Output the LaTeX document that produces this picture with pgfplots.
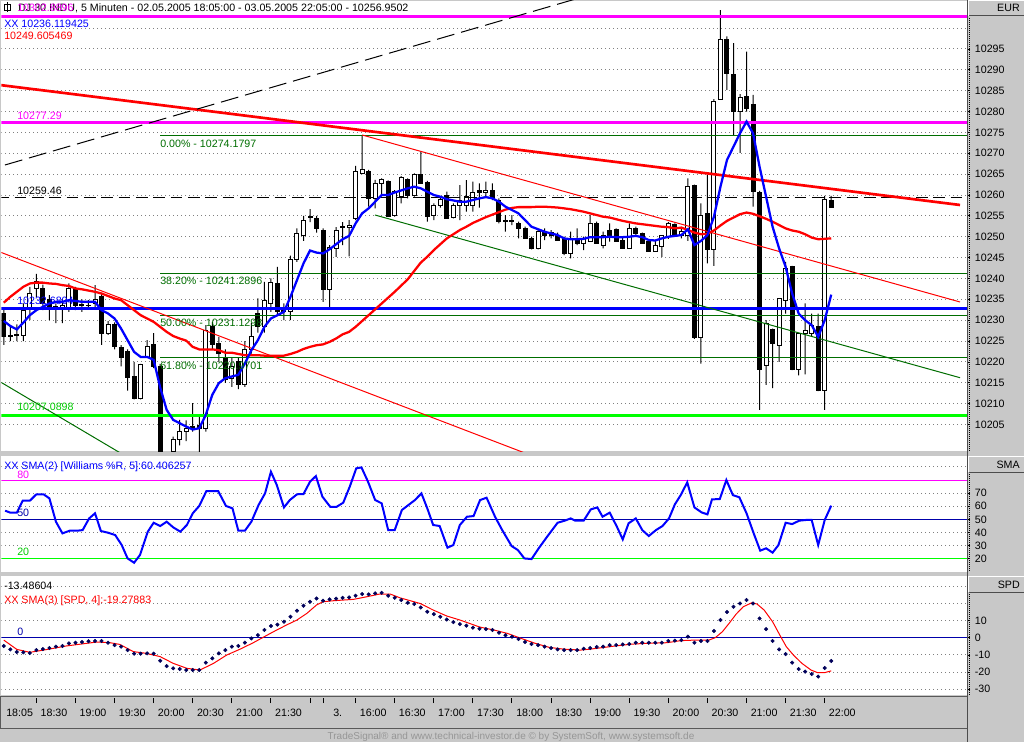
\documentclass[border=0pt]{standalone}
\usepackage{fontspec}
\setmainfont{Liberation Sans}
\usepackage{pgfplots}
\pgfplotsset{compat=1.18}
\usepackage{pgfplotstable}
\definecolor{bg}{RGB}{200,200,200}
\definecolor{gridc}{RGB}{128,128,128}
\definecolor{fib}{RGB}{0,110,0}
\definecolor{navyb}{RGB}{0,0,170}
\definecolor{dotc}{RGB}{0,0,90}
\definecolor{mag}{RGB}{255,0,255}
\definecolor{lgreen}{RGB}{0,255,0}
\definecolor{footc}{RGB}{150,150,150}
\newcommand\lab{\fontsize{8}{9.6}\selectfont}

\pgfplotstableread{
i o h l c b r
0 10231.6 10232.5 10224.1 10226.0 10229.8 10234.2
1 10226.4 10228.5 10225.0 10226.0 10228.6 10235.6
2 10226.3 10229.0 10225.0 10226.6 10227.8 10236.8
3 10226.4 10234.0 10225.0 10232.4 10229.4 10238.0
4 10232.6 10238.0 10230.0 10236.4 10231.2 10238.8
5 10237.6 10241.1 10235.6 10239.2 10232.4 10239.0
6 10237.6 10238.5 10232.4 10234.0 10233.2 10239.0
7 10235.0 10236.0 10230.0 10232.5 10234.0 10238.8
8 10233.2 10234.0 10229.3 10233.0 10234.4 10238.7
9 10233.0 10235.0 10229.3 10233.4 10234.4 10238.4
10 10232.9 10238.8 10232.0 10237.6 10234.8 10238.2
11 10237.6 10238.0 10232.4 10233.6 10234.6 10237.6
12 10233.8 10235.0 10232.0 10233.4 10234.4 10237.4
13 10233.4 10234.8 10232.6 10233.6 10234.4 10237.1
14 10234.0 10238.4 10232.8 10235.0 10234.4 10236.8
15 10235.6 10236.5 10224.1 10226.9 10232.4 10236.4
16 10226.9 10229.8 10226.5 10228.9 10231.6 10235.8
17 10228.9 10229.5 10223.0 10223.8 10230.4 10235.2
18 10223.5 10224.0 10218.9 10221.1 10228.0 10234.8
19 10222.4 10223.0 10213.1 10216.3 10225.2 10233.6
20 10216.6 10220.0 10211.0 10211.3 10222.4 10232.4
21 10211.3 10219.5 10211.0 10219.3 10221.2 10231.2
22 10221.1 10225.2 10221.0 10223.6 10221.2 10230.4
23 10224.1 10226.9 10218.5 10219.0 10220.5 10229.6
24 10218.9 10219.5 10196.0 10197.5 10213.9 10228.4
25 10197.0 10198.0 10193.0 10196.0 10208.5 10227.2
26 10198.5 10202.1 10197.0 10201.3 10206.1 10226.2
27 10201.3 10206.1 10200.0 10203.3 10205.3 10225.6
28 10203.3 10206.0 10201.0 10204.0 10204.5 10225.1
29 10204.5 10210.1 10203.3 10204.0 10203.8 10223.6
30 10204.8 10207.0 10198.0 10204.1 10204.1 10223.0
31 10204.1 10228.8 10203.3 10227.6 10207.3 10223.0
32 10228.5 10229.6 10223.0 10224.1 10212.1 10223.0
33 10224.3 10226.0 10220.0 10222.1 10214.9 10222.8
34 10221.0 10223.0 10215.0 10215.7 10216.1 10222.2
35 10216.0 10221.0 10214.0 10219.0 10216.5 10222.2
36 10220.0 10221.0 10213.5 10214.5 10216.9 10221.9
37 10214.5 10225.0 10214.0 10222.9 10219.6 10221.6
38 10222.9 10229.3 10222.0 10226.0 10222.8 10221.6
39 10231.6 10235.2 10227.0 10228.4 10225.2 10221.6
40 10228.4 10239.2 10227.0 10234.8 10228.4 10221.5
41 10234.0 10240.0 10232.0 10239.0 10230.4 10221.5
42 10238.8 10242.8 10231.0 10232.0 10231.2 10221.5
43 10232.5 10234.0 10230.0 10232.0 10232.0 10221.5
44 10232.0 10245.5 10230.0 10244.6 10235.6 10221.9
45 10244.6 10252.0 10244.0 10250.7 10239.6 10222.4
46 10250.2 10255.0 10249.0 10253.8 10243.6 10223.1
47 10254.8 10256.6 10253.5 10254.6 10246.7 10223.6
48 10254.4 10255.0 10251.0 10251.9 10246.2 10224.0
49 10251.4 10252.0 10234.4 10237.4 10246.0 10224.2
50 10237.4 10248.0 10233.2 10247.5 10247.0 10224.8
51 10247.2 10252.3 10245.2 10251.6 10248.2 10225.6
52 10252.2 10253.5 10248.0 10252.4 10249.4 10226.6
53 10252.3 10254.0 10245.3 10252.8 10250.2 10227.2
54 10254.4 10267.0 10254.0 10265.6 10253.2 10228.4
55 10265.2 10274.2 10265.0 10266.0 10255.6 10229.8
56 10265.6 10266.0 10257.2 10259.2 10256.8 10231.2
57 10259.2 10263.6 10256.8 10262.8 10258.4 10232.6
58 10262.8 10264.0 10260.0 10263.8 10260.0 10234.0
59 10263.2 10263.5 10254.8 10254.8 10260.0 10235.4
60 10255.2 10261.2 10254.8 10260.8 10260.6 10236.8
61 10259.6 10264.5 10258.0 10264.3 10261.1 10238.3
62 10263.6 10264.0 10259.2 10260.0 10261.6 10239.8
63 10260.0 10265.2 10259.6 10264.8 10262.0 10241.8
64 10264.8 10270.4 10262.8 10262.8 10261.6 10243.8
65 10263.0 10263.4 10253.6 10254.8 10260.8 10245.2
66 10255.2 10258.0 10254.0 10257.6 10260.0 10246.8
67 10257.6 10259.5 10257.0 10259.0 10259.6 10248.2
68 10260.0 10260.8 10254.4 10254.4 10259.0 10249.6
69 10254.7 10258.0 10254.4 10257.4 10258.7 10250.6
70 10257.6 10262.4 10254.0 10258.8 10258.4 10251.6
71 10257.6 10263.6 10256.0 10259.6 10258.4 10252.4
72 10257.6 10263.2 10256.0 10260.6 10258.8 10253.3
73 10261.0 10262.8 10257.0 10260.6 10259.2 10254.0
74 10260.6 10263.2 10259.6 10261.0 10259.5 10254.7
75 10261.0 10262.8 10258.8 10259.2 10259.2 10255.3
76 10258.8 10259.2 10253.2 10253.6 10258.4 10255.9
77 10253.6 10255.2 10251.2 10254.0 10257.2 10256.5
78 10254.0 10255.2 10252.8 10253.6 10256.4 10256.9
79 10253.2 10253.6 10249.6 10252.0 10255.6 10257.1
80 10252.0 10252.4 10249.6 10249.6 10254.0 10257.1
81 10249.6 10250.0 10247.0 10247.2 10252.4 10257.1
82 10247.2 10251.6 10247.0 10251.2 10251.8 10257.2
83 10251.2 10252.0 10249.2 10250.4 10251.2 10257.2
84 10251.0 10251.6 10249.6 10250.2 10250.8 10257.1
85 10250.4 10251.0 10249.2 10249.2 10250.4 10257.0
86 10249.6 10250.0 10245.6 10246.0 10249.6 10256.8
87 10246.0 10251.2 10244.8 10249.6 10249.4 10256.6
88 10249.2 10252.0 10248.0 10248.4 10249.4 10256.3
89 10248.4 10250.0 10246.8 10249.6 10249.5 10256.0
90 10248.8 10255.2 10248.8 10253.2 10249.9 10255.6
91 10253.2 10253.6 10248.4 10248.4 10249.9 10255.2
92 10248.0 10251.2 10247.2 10250.4 10249.9 10254.8
93 10251.6 10253.2 10248.8 10250.0 10250.0 10254.6
94 10251.8 10252.0 10248.8 10248.8 10249.9 10254.2
95 10249.2 10250.0 10247.2 10247.2 10249.9 10253.8
96 10247.2 10253.2 10247.2 10252.0 10250.0 10253.5
97 10252.0 10252.4 10250.4 10250.8 10250.2 10253.2
98 10250.8 10251.0 10248.4 10248.4 10249.9 10253.0
99 10248.8 10249.0 10246.4 10246.4 10249.2 10252.8
100 10246.4 10249.2 10246.4 10247.8 10249.1 10252.6
101 10247.6 10250.4 10245.2 10250.2 10249.6 10252.4
102 10250.0 10253.5 10249.5 10253.2 10250.0 10252.3
103 10253.0 10253.2 10250.4 10250.4 10250.2 10252.0
104 10250.4 10252.0 10249.6 10251.2 10250.4 10252.2
105 10250.4 10264.0 10249.0 10262.0 10251.8 10251.6
106 10262.4 10262.5 10225.5 10225.9 10248.0 10251.0
107 10225.9 10258.0 10219.6 10255.2 10249.0 10250.6
108 10255.6 10264.8 10243.6 10247.0 10250.4 10250.7
109 10247.0 10283.0 10243.0 10282.4 10254.8 10251.5
110 10282.8 10304.3 10282.8 10297.2 10262.0 10252.7
111 10297.2 10298.0 10285.2 10289.2 10268.4 10253.8
112 10289.0 10296.4 10274.4 10280.0 10271.6 10254.6
113 10280.0 10284.2 10270.1 10283.4 10274.8 10255.4
114 10283.7 10294.4 10280.0 10280.8 10277.6 10255.8
115 10281.8 10284.0 10257.2 10260.8 10274.8 10255.5
116 10260.6 10261.0 10208.5 10218.2 10266.8 10254.9
117 10219.2 10230.0 10214.5 10229.2 10259.6 10254.3
118 10227.8 10228.0 10213.7 10224.4 10252.4 10253.6
119 10224.0 10235.3 10220.0 10235.2 10247.2 10252.8
120 10234.8 10244.0 10231.6 10242.4 10242.8 10252.0
121 10242.8 10243.0 10218.0 10218.2 10236.4 10251.5
122 10218.2 10226.8 10216.8 10226.8 10231.6 10251.2
123 10226.8 10234.0 10217.0 10227.6 10230.0 10250.6
124 10226.8 10231.6 10226.0 10228.8 10228.8 10249.8
125 10228.6 10231.6 10213.0 10213.1 10226.0 10249.4
126 10213.1 10259.8 10208.5 10259.0 10230.0 10249.5
127 10258.8 10259.8 10257.0 10256.95 10236.12 10249.61
}\candles

\pgfplotstableread{
i v
0 -4.8
1 -6.8
2 -8.3
3 -8.5
4 -8.9
5 -7.2
6 -6.6
7 -6.0
8 -5.2
9 -4.8
10 -3.3
11 -2.9
12 -2.5
13 -2.1
14 -1.9
15 -1.9
16 -2.9
17 -4.3
18 -5.2
19 -7.2
20 -9.3
21 -9.3
22 -9.1
23 -9.3
24 -13.4
25 -16.5
26 -17.8
27 -18.2
28 -18.8
29 -18.8
30 -18.8
31 -14.5
32 -12.0
33 -9.1
34 -7.2
35 -5.2
36 -4.8
37 -2.9
38 -0.4
39 1.5
40 4.5
41 6.8
42 7.6
43 9.3
44 12.2
45 15.7
46 18.6
47 20.9
48 22.8
49 21.5
50 22.3
51 22.7
52 23.2
53 23.4
54 24.4
55 25.4
56 25.2
57 25.8
58 26.1
59 24.4
60 23.2
61 21.9
62 20.3
63 19.6
64 17.6
65 15.1
66 13.7
67 12.2
68 10.6
69 9.1
70 7.9
71 7.0
72 5.8
73 5.2
74 5.0
75 4.5
76 2.9
77 1.4
78 0.6
79 -0.8
80 -2.5
81 -3.7
82 -4.3
83 -5.2
84 -6.0
85 -6.8
86 -7.2
87 -7.2
88 -7.2
89 -6.4
90 -6.0
91 -5.4
92 -5.2
93 -4.3
94 -4.3
95 -3.9
96 -3.7
97 -2.9
98 -2.9
99 -2.9
100 -2.9
101 -2.9
102 -1.9
103 -1.7
104 -1.4
105 0.6
106 -2.9
107 -1.9
108 -1.9
109 3.9
110 10.3
111 14.9
112 18.0
113 19.9
114 21.9
115 19.9
116 11.2
117 5.0
118 -1.9
119 -6.8
120 -9.5
121 -14.5
122 -18.2
123 -19.7
124 -21.1
125 -22.6
126 -17.6
127 -13.49
}\spdd

\pgfplotsset{
  panel/.style={scale only axis, width=724.125pt, xmin=-0.353, xmax=147.84,
    enlargelimits=false, axis line style={draw=none}, xtick=\empty, ytick=\empty,
    clip=true, anchor=north west},
  bgpanel/.style={axis background/.style={fill=white}},
  gridl/.style={gridc, line width=0.75pt, dash pattern=on 0.75pt off 2.25pt, forget plot},
  rlab/.style={ytick pos=right, yticklabel pos=right, tick align=outside, major tick length=2.25pt,
    ytick style={black, line width=0.6pt}, scaled y ticks=false,
    yticklabel style={font=\lab, anchor=west, inner sep=0pt, xshift=3.5pt},
    /pgf/number format/fixed, /pgf/number format/1000 sep={},
    /pgf/number format/assume math mode=true},
  mainy/.style={at={(1.125pt,-0.75pt)}, height=337.5pt, ymin=10198.643, ymax=10306.505},
  wiry/.style={at={(1.125pt,-341.775pt)}, height=87pt, ymin=10.06, ymax=98.53},
  spdy/.style={at={(1.125pt,-432pt)}, height=89.25pt, ymin=-33.31, ymax=35.87},
}

\begin{document}
\begin{tikzpicture}
\useasboundingbox (0,0) rectangle (768pt,-556.5pt);
\fill[bg] (0,0) rectangle (768pt,-556.5pt);

% ---------- main panel ----------
\begin{axis}[panel, mainy, bgpanel]
\pgfplotsinvokeforeach{10205,10210,...,10300}{\addplot[gridl] coordinates {(-1,#1) (150,#1)};}
\end{axis}
\begin{axis}[panel, mainy, ybar stacked, bar width=0.75pt]
\addplot[draw=none, fill=none] table[x=i, y=l] {\candles};
\addplot[draw=none, fill=black] table[x=i, y expr=\thisrow{h}-\thisrow{l}] {\candles};
\end{axis}
\begin{axis}[panel, mainy, ybar stacked, bar width=3pt]
\addplot[draw=none, fill=none] table[x=i, y expr={min(\thisrow{o},\thisrow{c})}] {\candles};
\addplot[draw=black, fill=white, line width=0.75pt] table[x=i, y expr={max(\thisrow{c}-\thisrow{o},0)}] {\candles};
\addplot[draw=black, fill=black, line width=0.75pt] table[x=i, y expr={max(\thisrow{o}-\thisrow{c},0)}] {\candles};
\end{axis}
\begin{axis}[panel, mainy, rlab, ytick={10205,10210,...,10295}]
\addplot[mag, line width=2.25pt] coordinates {(-1,10302.8896) (150,10302.8896)};
\addplot[mag, line width=2.25pt] coordinates {(-1,10277.29) (150,10277.29)};
\addplot[black, line width=0.75pt, dash pattern=on 8.75pt off 4.25pt] coordinates {(-1,10259.46) (150,10259.46)};
\addplot[fib, line width=0.75pt] coordinates {(24,10274.1797) (150,10274.1797)};
\addplot[fib, line width=0.75pt] coordinates {(24,10241.2896) (150,10241.2896)};
\addplot[fib, line width=0.75pt] coordinates {(24,10231.1298) (150,10231.1298)};
\addplot[fib, line width=0.75pt] coordinates {(24,10220.9701) (150,10220.9701)};
\addplot[blue, line width=2.25pt] coordinates {(-1,10232.6804) (150,10232.6804)};
\addplot[lgreen, line width=2.25pt] coordinates {(-1,10207.0898) (150,10207.0898)};
\addplot[red, line width=2pt] coordinates {(-0.58,10286.37) (146.77,10257.61)};
\addplot[red, line width=0.75pt] coordinates {(-0.58,10246.34) (85,10195.16)};
\addplot[red, line width=0.75pt] coordinates {(55,10274.39) (146.77,10234.36)};
\addplot[fib, line width=0.75pt] coordinates {(-0.58,10215.25) (20,10196.22)};
\addplot[fib, line width=0.75pt] coordinates {(56.97,10255.21) (146.77,10216.21)};
\addplot[black, line width=0.75pt, dash pattern=on 13.5pt off 5.25pt] coordinates {(0.18,10267.2) (90,10308.0)};
\addplot[red, line width=1.7pt] table[x=i, y=r] {\candles};
\addplot[blue, line width=1.7pt] table[x=i, y=b] {\candles};
\end{axis}

% ---------- Williams panel ----------
\begin{axis}[panel, wiry, bgpanel]
\pgfplotsinvokeforeach{30,40,60,70,90}{\addplot[gridl] coordinates {(-1,#1) (150,#1)};}
\end{axis}
\begin{axis}[panel, wiry, rlab, ytick={20,30,...,70}]
\addplot[mag, line width=0.75pt] coordinates {(-1,80) (150,80)};
\addplot[navyb, line width=0.75pt] coordinates {(-1,50) (150,50)};
\addplot[lgreen, line width=1.1pt] coordinates {(-1,20) (150,20)};
\addplot[blue, line width=1.5pt] coordinates {
(0.2,56.6)(1.0,55.1)(2.0,55.1)(2.9,64.2)(4.0,64.2)(5.0,69.1)(6.1,69.1)(7.0,66.0)(8.0,48.2)(9.0,39.3)(10.1,41.3)(11.2,41.3)(12.1,41.8)(13.1,50.7)(14.0,54.6)(14.9,41.1)(16.0,39.8)(17.1,38.0)(18.1,30.4)(19.0,20.2)(20.0,16.9)(20.9,22.8)(22.1,40.6)(23.0,47.4)(24.0,44.9)(25.0,48.2)(26.0,43.9)(27.1,40.6)(28.1,45.7)(29.0,54.6)(30.0,60.2)(31.1,71.6)(32.9,71.6)(34.1,60.2)(35.1,58.4)(36.0,41.3)(37.0,41.3)(38.0,48.2)(39.1,60.9)(40.1,69.8)(41.0,86.3)(41.9,76.2)(43.0,59.1)(43.9,64.7)(45.0,69.1)(46.0,69.3)(47.0,78.7)(47.9,83.0)(48.9,67.3)(50.1,59.6)(51.1,59.6)(52.1,62.7)(53.1,74.9)(54.1,88.9)(54.9,89.6)(55.9,78.7)(57.0,64.7)(58.0,62.2)(59.0,41.8)(60.0,41.8)(61.1,57.1)(62.1,60.9)(63.1,64.7)(64.1,69.8)(65.0,58.4)(65.9,45.7)(66.9,44.9)(68.1,28.4)(69.0,30.4)(70.0,45.7)(71.1,52.0)(72.1,52.5)(73.1,64.7)(74.1,66.5)(75.4,52.0)(76.5,41.8)(77.95,29.6)(78.9,26.6)(79.9,20.2)(81.0,19.7)(82.1,27.9)(83.4,36.8)(85.0,47.4)(86.1,49.0)(87.0,50.7)(87.7,49.0)(89.0,49.0)(90.1,57.6)(91.1,59.1)(91.9,52.0)(93.0,55.1)(94.1,44.4)(95.0,34.7)(95.9,47.0)(97.0,50.7)(98.0,41.8)(99.0,37.3)(100.1,41.8)(101.1,44.9)(102.1,50.7)(103.0,61.4)(103.9,68.5)(104.9,78.2)(106.0,59.1)(107.1,55.3)(108.0,53.8)(108.7,65.2)(109.9,65.5)(110.9,80.0)(111.9,68.5)(112.9,66.8)(114.0,54.6)(115.1,39.3)(116.1,26.1)(117.0,27.9)(118.0,24.6)(118.9,30.4)(120.0,47.4)(121.0,46.4)(122.1,49.0)(123.1,49.5)(124.0,49.5)(125.0,30.4)(126.0,49.5)(127.0,60.4)};
\end{axis}

% ---------- SPD panel ----------
\begin{axis}[panel, spdy, bgpanel]
\pgfplotsinvokeforeach{-30,-20,-10,10,20,30}{\addplot[gridl] coordinates {(-1,#1) (150,#1)};}
\end{axis}
\begin{axis}[panel, spdy, rlab, ytick={-30,-20,...,10}]
\addplot[navyb, line width=0.75pt] coordinates {(-1,0) (150,0)};
\addplot[red, line width=0.75pt] coordinates {
(0,-1.4)(2,-6.8)(4,-8.5)(6.1,-7.2)(9.6,-4.8)(14.3,-2.5)(16.3,-2.9)(17.8,-3.9)(19.9,-8.1)(21.9,-9.1)(24,-11.0)(26,-14.9)(28.1,-17.8)(30.1,-18.8)(32.2,-14.9)(34.2,-10.1)(36.3,-6.6)(38.3,-2.9)(39.8,0.2)(41.4,3.5)(43.4,7.4)(45,10.3)(46.5,14.1)(48,19.0)(49,20.9)(50.6,21.5)(53.7,22.3)(55.7,23.8)(57.7,25.4)(59.3,25.4)(60.8,23.2)(63.9,19.9)(65.9,16.1)(68,12.6)(70,10.3)(73.05,6.2)(75.2,4.5)(77.3,2.5)(79.4,-0.4)(81.6,-3.3)(83.7,-5.6)(85.8,-6.6)(88.5,-7.2)(90.1,-6.6)(92.2,-5.6)(94.3,-4.6)(96.5,-3.7)(98.6,-3.3)(101.8,-2.9)(103.9,-1.7)(106.0,-1.4)(108.2,-1.4)(109.2,0.0)(110.3,3.5)(111.4,8.7)(112.4,13.7)(113.5,18.0)(114.8,20.3)(115.6,19.6)(116.7,16.1)(118.0,9.3)(119.1,1.6)(120.1,-5.2)(121.2,-10.1)(122.5,-14.9)(123.9,-18.8)(124.9,-20.3)(126.0,-20.3)(127.0,-19.28)};
\addplot[only marks, mark=*, mark size=1.3pt, dotc] table[x=i, y=v] {\spdd};
\end{axis}

% ---------- x axis band ----------
\begin{scope}[x=0.75pt, y=-0.75pt]
\draw[gray!70!black, line width=0.75pt] (0.5,696.5) rectangle (967,728);
\end{scope}
\begin{axis}[panel, at={(1.125pt,-523.5pt)}, height=3.75pt, ymin=0, ymax=1,
  xtick={5,11,17,23,29,35,41,47,49,54,60,66,72,78,84,90,96,102,108,114,120,126},
  xticklabels={18:30,19:00,19:30,20:00,20:30,21:00,21:30,{},{\hspace*{4.5pt}3.},16:00,16:30,17:00,17:30,18:00,18:30,19:00,19:30,20:00,20:30,21:00,21:30,22:00},
  xtick pos=left, tick align=inside, major tick length=3.75pt,
  xtick style={black, line width=0.75pt},
  xticklabel style={font=\lab, anchor=base west, inner sep=0pt, xshift=3pt, yshift=-9.75pt}]
\addplot[draw=none] coordinates {(0,0.5)};
\end{axis}

% ---------- frame decorations and texts ----------
\begin{scope}[x=0.75pt, y=-0.75pt]
\foreach \yy/\tt in {0/EUR,456/SMA,576/SPD}{
  \fill[bg] (968,\yy) rectangle (1024,\yy+16);
  \draw[white, line width=0.75pt] (968.5,\yy+16) -- (968.5,\yy+0.5) -- (1024,\yy+0.5);
  \draw[gray!60!black, line width=0.75pt] (968.5,\yy+16) -- (1024,\yy+16);
  \node[anchor=base east, inner sep=0pt, font=\lab] at (1020,\yy+12) {\tt};
}
\draw[black, line width=0.75pt, dash pattern=on 0.75pt off 0.75pt] (969,18) -- (969,451);
\draw[black, line width=0.75pt, dash pattern=on 0.75pt off 0.75pt] (969,474) -- (969,572);
\draw[black, line width=0.75pt, dash pattern=on 0.75pt off 0.75pt] (969,594) -- (969,695);
\draw[gray!60!black, line width=0.75pt] (967.5,0) -- (967.5,742);

\draw[black, line width=0.6pt] (4.5,4.5) rectangle (10.5,10.5);
\draw[black, line width=0.6pt] (7.5,2.5) -- (7.5,12.5);
\node[anchor=base west, inner sep=0pt, font=\lab] at (18,12) {DJ 30 INDU, 5 Minuten - 02.05.2005 18:05:00 - 03.05.2005 22:05:00 - 10256.9502};
\node[anchor=base west, inner sep=0pt, font=\lab, text=mag] at (17,12) {10302.8896};
\node[anchor=base west, inner sep=0pt, font=\lab, text=blue] at (4,28) {XX 10236.119425};
\node[anchor=base west, inner sep=0pt, font=\lab, text=red] at (4,40) {10249.605469};
\node[anchor=base west, inner sep=0pt, font=\lab, text=mag] at (17,119) {10277.29};
\node[anchor=base west, inner sep=0pt, font=\lab, text=fib] at (160,147) {0.00\% - 10274.1797};
\node[anchor=base west, inner sep=0pt, font=\lab] at (17,194) {10259.46};
\node[anchor=base west, inner sep=0pt, font=\lab, text=fib] at (160,284) {38.20\% - 10241.2896};
\node[anchor=base west, inner sep=0pt, font=\lab, text=blue] at (17,304) {10232.6804};
\node[anchor=base west, inner sep=0pt, font=\lab, text=fib] at (160,326) {50.00\% - 10231.1298};
\node[anchor=base west, inner sep=0pt, font=\lab, text=fib] at (160,369) {61.80\% - 10220.9701};
\node[anchor=base west, inner sep=0pt, font=\lab, text=lgreen!80!black] at (17,410) {10207.0898};
\node[anchor=base west, inner sep=0pt, font=\lab, text=blue] at (4,469) {XX SMA(2) [Williams \%R, 5]:60.406257};
\node[anchor=base west, inner sep=0pt, font=\lab, text=mag] at (17,478) {80};
\node[anchor=base west, inner sep=0pt, font=\lab, text=navyb] at (17,516) {50};
\node[anchor=base west, inner sep=0pt, font=\lab, text=lgreen!80!black] at (17,555) {20};
\node[anchor=base west, inner sep=0pt, font=\lab] at (4,589) {-13.48604};
\node[anchor=base west, inner sep=0pt, font=\lab, text=red] at (4,603) {XX SMA(3) [SPD, 4]:-19.27883};
\node[anchor=base west, inner sep=0pt, font=\lab, text=navyb] at (17,635) {0};
\node[anchor=base west, inner sep=0pt, font=\lab] at (6,716) {18:05};
\node[anchor=base, inner sep=0pt, font=\fontsize{7.5}{9}\selectfont, text=footc] at (511,739) {TradeSignal® and www.technical-investor.de © by SystemSoft, www.systemsoft.de};
\end{scope}
\end{tikzpicture}
\end{document}
